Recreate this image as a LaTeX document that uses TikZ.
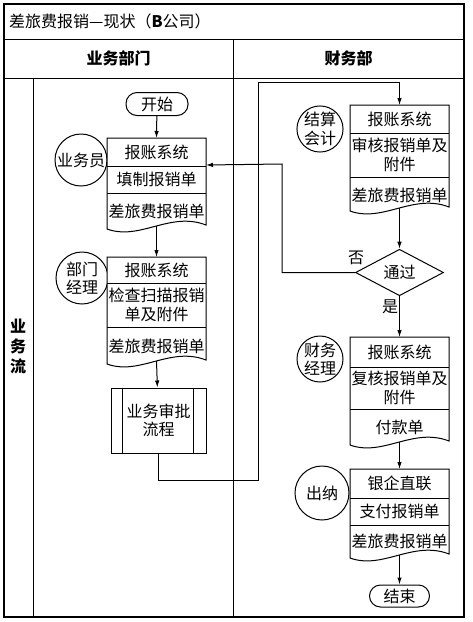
\documentclass[tikz,border=0pt]{standalone}
\usepackage{fontspec}
\setmainfont{Noto Sans CJK SC}
\usetikzlibrary{
    arrows.meta,
    calc,
    shapes.geometric
}

\newcommand{\bodyfont}{\fontsize{16}{18.5}\selectfont}

\begin{document}
\begin{tikzpicture}[
    x=1pt, y=-1pt,
    >={Latex[length=7pt,width=4.5pt]},
    line join=miter,
    frame/.style={line width=1.4pt},
    grid line/.style={line width=1pt},
    doc/.style={line width=1pt},
    flow/.style={->, line width=1pt},
    role/.style={circle, draw, line width=1pt, fill=white, minimum size=#1, align=center},
    role/.default=52pt,
    terminal/.style={draw, line width=1pt, rounded corners=11pt, minimum width=62pt, minimum height=23pt},
    decision/.style={diamond, draw, line width=1pt, fill=white, minimum width=88pt, minimum height=35pt},
    header/.style={font=\bodyfont\bfseries},
    every node/.style={font=\bodyfont, inner sep=0pt}
]

\useasboundingbox (0,0) rectangle (472,622);

% -------------------------------------------------
% Swimlane frame
% -------------------------------------------------

\draw[frame] (4,4) rectangle (464,617);
\draw[grid line] (4,39) -- (464,39);
\draw[grid line] (4,78) -- (464,78);
\draw[grid line] (233,39) -- (233,617);
\draw[grid line] (33,78) -- (33,617);

\node[anchor=west] (title) at (9,21.5) {差旅费报销—现状（\textbf{B}公司）};
\node[header] (dept) at (118.5,58.5) {业务部门};
\node[header] (fin) at (348.5,58.5) {财务部};
\node[header, align=center, font=\fontsize{16}{20}\selectfont\bfseries] (lane) at (18,346) {业\\务\\流};

% -------------------------------------------------
% 业务部门
% -------------------------------------------------

\node[terminal] (start) at (157,104) {开始};

\node[role] (clerk) at (81,160) {业务员};

% document of the clerk
\begin{scope}[shift={(107,138)}]
    \draw[doc, fill=white]
        (0,0) -- (99,0) -- (99,87)
        .. controls (63,73) and (33,103) .. (0,91) -- cycle;
    \draw[doc] (0,28) -- (99,28);
    \draw[doc] (0,55) -- (99,55);
    \node (clerk sys) at (49.5,14) {报账系统};
    \node (clerk fill) at (49.5,41.5) {填制报销单};
    \node (clerk form) at (49.5,73) {差旅费报销单};
    \coordinate (clerk top) at (49.5,0);
    \coordinate (clerk bot) at (49.5,88);
    \coordinate (clerk in) at (99,27);
\end{scope}

\node[role, align=center] (mgr) at (82,278) {部门\\经理};

% document of the department manager
\begin{scope}[shift={(107,257)}]
    \draw[doc, fill=white]
        (0,0) -- (99,0) -- (99,103)
        .. controls (63,89) and (33,119) .. (0,107) -- cycle;
    \draw[doc] (0,26) -- (99,26);
    \draw[doc] (0,70) -- (99,70);
    \node (mgr sys) at (49.5,13) {报账系统};
    \node[align=center] (mgr check) at (49.5,48) {检查扫描报销\\单及附件};
    \node (mgr form) at (49.5,89) {差旅费报销单};
    \coordinate (mgr top) at (49.5,0);
    \coordinate (mgr bot) at (49.5,104);
\end{scope}

% predefined process
\node[draw, line width=1pt, minimum width=95pt, minimum height=65pt, align=center]
    (approve) at (158.5,420.5) {业务审批\\流程};
\draw[doc] ($(approve.north west)+(12,0)$) -- ($(approve.south west)+(12,0)$);
\draw[doc] ($(approve.north east)+(-13,0)$) -- ($(approve.south east)+(-13,0)$);

% -------------------------------------------------
% 财务部
% -------------------------------------------------

\node[role=46pt, align=center] (acct) at (320,129) {结算\\会计};

% document of the settlement accountant
\begin{scope}[shift={(350,105)}]
    \draw[doc, fill=white]
        (0,0) -- (99,0) -- (99,102)
        .. controls (63,88) and (33,118) .. (0,106) -- cycle;
    \draw[doc] (0,28) -- (99,28);
    \draw[doc] (0,72) -- (99,72);
    \node (acct sys) at (49.5,14) {报账系统};
    \node[align=center] (acct check) at (49.5,50) {审核报销单及\\附件};
    \node (acct form) at (49.5,90) {差旅费报销单};
    \coordinate (acct top) at (49.5,0);
    \coordinate (acct bot) at (49.5,103);
\end{scope}

\node[decision] (pass) at (399.5,272.5) {通过};
\node (no) at (356,258) {否};
\node (yes) at (390,307) {是};

\node[role=46pt, align=center] (fmgr) at (320,359) {财务\\经理};

% document of the finance manager
\begin{scope}[shift={(350,337)}]
    \draw[doc, fill=white]
        (0,0) -- (99,0) -- (99,104)
        .. controls (63,90) and (33,120) .. (0,108) -- cycle;
    \draw[doc] (0,30) -- (99,30);
    \draw[doc] (0,72) -- (99,72);
    \node (fmgr sys) at (49.5,15) {报账系统};
    \node[align=center] (fmgr check) at (49.5,51) {复核报销单及\\附件};
    \node (fmgr pay) at (49.5,90) {付款单};
    \coordinate (fmgr top) at (49.5,0);
    \coordinate (fmgr bot) at (49.5,105);
\end{scope}

\node[role=54pt] (cash) at (322,493) {出纳};

% document of the cashier
\begin{scope}[shift={(350,469)}]
    \draw[doc, fill=white]
        (0,0) -- (99,0) -- (99,85)
        .. controls (63,71) and (33,101) .. (0,89) -- cycle;
    \draw[doc] (0,29) -- (99,29);
    \draw[doc] (0,56) -- (99,56);
    \node (cash bank) at (49.5,14.5) {银企直联};
    \node (cash pay) at (49.5,42.5) {支付报销单};
    \node (cash form) at (49.5,72) {差旅费报销单};
    \coordinate (cash top) at (49.5,0);
    \coordinate (cash bot) at (49.5,86);
\end{scope}

\node[terminal, minimum width=60pt, minimum height=22pt] (end) at (399.5,596) {结束};

% -------------------------------------------------
% Flow
% -------------------------------------------------

\coordinate (loop low) at (258,480);
\coordinate (loop high) at (258,82);
\coordinate (back) at (282,164);

\draw[flow] (start) -- (clerk top);
\draw[flow] (clerk bot) -- (mgr top);
\draw[flow] (mgr bot) -- (approve);
\draw[flow] (approve.south) |- (loop low) -- (loop high) -| (acct top);
\draw[flow] (acct bot) -- (pass);
\draw[flow] (pass.west) -| (back) -- (clerk in);
\draw[flow] (pass) -- (fmgr top);
\draw[flow] (fmgr bot) -- (cash top);
\draw[flow] (cash bot) -- (end);

\end{tikzpicture}
\end{document}
